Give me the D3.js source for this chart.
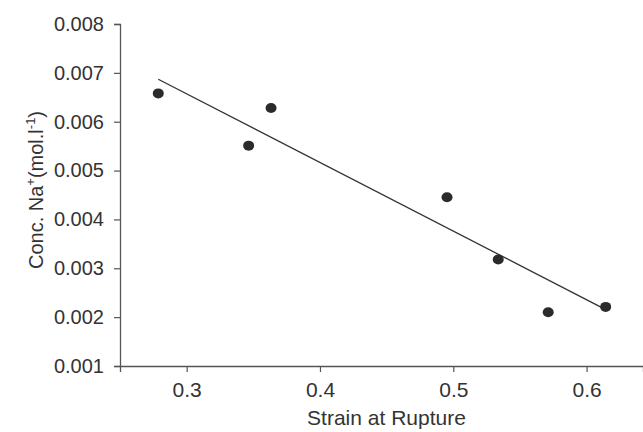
<!DOCTYPE html>
<html><head><meta charset="utf-8">
<script src="https://cdn.jsdelivr.net/npm/d3@7"></script>
<style>html,body{margin:0;padding:0;background:#fff;}svg{display:block;}</style>
</head><body>
<svg id="c" width="643" height="432"></svg>
<script>
const strain = [0.2787, 0.3465, 0.3633, 0.4953, 0.5337, 0.5712, 0.6143];
const conc   = [0.00658, 0.00551, 0.00628, 0.004455, 0.00318, 0.00210, 0.00221];
const fitX = [0.2787, 0.614];
const fitY = [0.00687, 0.00216];
const xTicks = [0.3, 0.4, 0.5, 0.6];
const yTicks = [0.001, 0.002, 0.003, 0.004, 0.005, 0.006, 0.007, 0.008];

const svg = d3.select("#c");
const x = d3.scaleLinear().domain([0.25, 0.6423]).range([120, 643]);
const y = d3.scaleLinear().domain([0.001, 0.008]).range([366, 24]);
const font = "'Liberation Sans', Arial, sans-serif";
const txt = "#333";
const axc = "#555";

const xa = svg.append("g").attr("transform", "translate(0,366)")
  .call(d3.axisBottom(x).tickValues(xTicks).tickFormat(d3.format(".1f")).tickSizeOuter(0).tickSize(6).tickPadding(10));
const ya = svg.append("g").attr("transform", "translate(120,0)")
  .call(d3.axisLeft(y).tickValues(yTicks).tickFormat(d3.format(".3f")).tickSizeOuter(0).tickSize(6).tickPadding(10));
[xa, ya].forEach(g => {
  g.select(".domain").attr("stroke", axc).attr("stroke-width", 1.3);
  g.selectAll(".tick line").attr("stroke", axc).attr("stroke-width", 1.2);
  g.selectAll(".tick text").attr("fill", txt).style("font-family", font).style("font-size", "20px");
});
xa.selectAll(".tick text").style("font-size", "21px");

svg.append("line")
  .attr("x1", x(fitX[0])).attr("y1", y(fitY[0]))
  .attr("x2", x(fitX[1])).attr("y2", y(fitY[1]))
  .attr("stroke", "#333").attr("stroke-width", 1.3);

svg.selectAll("ellipse.pt").data(strain).enter().append("ellipse")
  .attr("class", "pt")
  .attr("cx", (d) => x(d)).attr("cy", (d, i) => y(conc[i]))
  .attr("rx", 5.5).attr("ry", 5).attr("fill", "#2b2b2b");

svg.append("text").attr("x", 386.5).attr("y", 425).attr("text-anchor", "middle")
  .attr("fill", txt).style("font-family", font).style("font-size", "21px")
  .text("Strain at Rupture");

const yl = svg.append("text").attr("transform", "translate(43,190) rotate(-90)")
  .attr("text-anchor", "middle").attr("fill", txt)
  .style("font-family", font).style("font-size", "20px");
yl.append("tspan").text("Conc. Na");
yl.append("tspan").attr("dy", -8).style("font-size", "13px").text("+");
yl.append("tspan").attr("dy", 8).text("(mol.l");
yl.append("tspan").attr("dy", -8).style("font-size", "13px").text("-1");
yl.append("tspan").attr("dy", 8).text(")");
</script>
</body></html>
